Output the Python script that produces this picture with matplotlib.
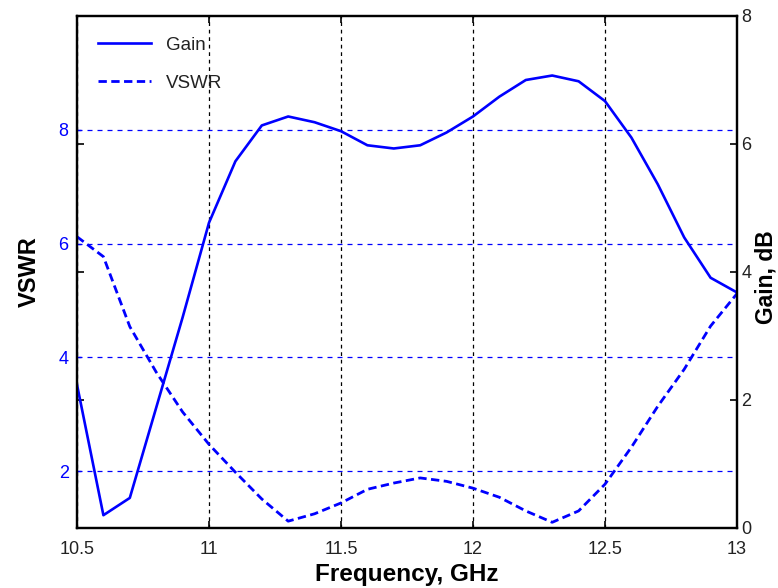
import matplotlib
matplotlib.use("Agg")
import matplotlib.pyplot as plt

plt.rcParams['font.family'] = ['Liberation Sans', 'DejaVu Sans']

freq = [10.5, 10.6, 10.7, 10.8, 10.9, 11.0, 11.1, 11.2, 11.3, 11.4, 11.5, 11.6, 11.7,
        11.8, 11.9, 12.0, 12.1, 12.2, 12.3, 12.4, 12.5, 12.6, 12.7, 12.8, 12.9, 13.0]
gain_db = [2.24, 0.20, 0.47, 1.88, 3.29, 4.77, 5.73, 6.29, 6.43, 6.34, 6.20, 5.98, 5.93,
           5.98, 6.18, 6.43, 6.74, 7.00, 7.07, 6.98, 6.67, 6.10, 5.37, 4.54, 3.91, 3.68]
vswr = [6.12, 5.77, 4.54, 3.74, 3.04, 2.47, 1.98, 1.51, 1.12, 1.25, 1.44, 1.68, 1.79,
        1.88, 1.82, 1.70, 1.54, 1.30, 1.10, 1.30, 1.77, 2.42, 3.14, 3.79, 4.55, 5.12]

x_ticks = [10.5, 11, 11.5, 12, 12.5, 13]
x_ticklabels = ['10.5', '11', '11.5', '12', '12.5', '13']
vswr_ticks = [2, 4, 6, 8]
gain_ticks = [0, 2, 4, 6, 8]

fig = plt.figure(figsize=(7.78, 5.88), dpi=100)
ax1 = fig.add_axes([77/778, 1-528/588, (737-77)/778, (528-16)/588])
ax2 = ax1.twinx()

ax1.set_xlim(10.5, 13)
ax1.set_ylim(1, 10)
ax2.set_ylim(0, 8)

ax1.set_xticks(x_ticks)
ax1.set_xticklabels(x_ticklabels)
ax1.set_yticks(vswr_ticks)
ax2.set_yticks(gain_ticks)

ax1.grid(axis='y', color='#0000ff', linestyle=(0, (4, 4)), linewidth=0.9)
ax1.grid(axis='x', color='black', linestyle=(0, (3, 3)), linewidth=0.9)
ax1.set_axisbelow(True)

l2, = ax2.plot(freq, gain_db, color='#0000ff', linewidth=1.9, label='Gain')
l1, = ax1.plot(freq, vswr, color='#0000ff', linewidth=2.0, linestyle=(0, (3, 1.6)), label='VSWR')

for a in (ax1, ax2):
    for s in a.spines.values():
        s.set_linewidth(1.6)
        s.set_color('black')

ax1.tick_params(axis='x', direction='in', top=True, length=5, width=1.2,
                labelsize=13, pad=9, colors='black', labelcolor='#222222')
ax1.tick_params(axis='y', direction='in', length=3, width=1.0, color='#0000ff',
                labelcolor='#0000ff', labelsize=13, pad=6)
ax2.tick_params(axis='y', direction='in', left=True, right=True, labelleft=False,
                labelright=True, length=5, width=1.2, color='black',
                labelcolor='#222222', labelsize=13, pad=3)

ax1.set_xlabel('Frequency, GHz', fontsize=17.5, fontweight='bold', labelpad=4)
ax1.set_ylabel('VSWR', fontsize=17, fontweight='bold', labelpad=13)
ax2.set_ylabel('Gain, dB', fontsize=16.5, fontweight='bold', rotation=90,
               va='center', ha='center')
ax2.yaxis.set_label_coords((766 - 77) / 660, 0.49)

leg = ax2.legend(handles=[l2, l1], loc='upper left', frameon=False, fontsize=13.5,
                 handlelength=2.8, labelspacing=1.1, handletextpad=0.8,
                 bbox_to_anchor=(0.012, 0.985), borderaxespad=0.3)
for t in leg.get_texts():
    t.set_color('#222222')

fig.savefig('out.png', dpi=100)
